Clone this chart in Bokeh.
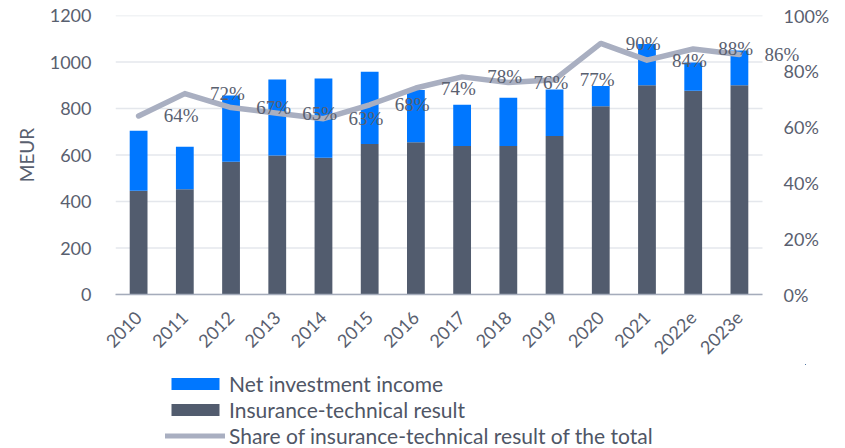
import math
from bokeh.plotting import figure
from bokeh.layouts import column
from bokeh.models import (Range1d, LinearAxis, ColumnDataSource, Legend, LegendItem,
                          LabelSet, FixedTicker, NumeralTickFormatter)
from bokeh.embed import file_html
from bokeh.resources import INLINE

years = ["2010", "2011", "2012", "2013", "2014", "2015", "2016", "2017",
         "2018", "2019", "2020", "2021", "2022e", "2023e"]
insurance_technical = [446, 453, 571, 598, 588, 647, 655, 639, 639, 682, 810, 900, 876, 900]
net_investment = [258, 182, 285, 327, 341, 311, 225, 177, 207, 200, 87, 177, 122, 149]
share_pct = [64, 72, 67, 65, 63, 68, 74, 78, 76, 77, 90, 84, 88, 86]
left_ticks = [0, 200, 400, 600, 800, 1000, 1200]
right_ticks = [0, 0.2, 0.4, 0.6, 0.8, 1.0]

FONT = "Lato"
TXT = "#59606F"
BLUE = "#0077FF"
DARK = "#525C6E"
LINEC = "#A9AFC1"

idx = list(range(len(years)))
src = ColumnDataSource(dict(
    x=idx,
    year=years,
    tech=insurance_technical,
    inv=net_investment,
    top=[a + b for a, b in zip(insurance_technical, net_investment)],
    share=[v / 100 for v in share_pct],
    lab=[f"{v}%" for v in share_pct],
))

x_lo, x_hi = -0.5, len(years) - 0.5
p = figure(x_range=Range1d(x_lo, x_hi + 0.93), y_range=Range1d(0, 1200), width=845, height=364,
           output_backend="svg", toolbar_location=None,
           min_border_left=115, min_border_right=40, min_border_top=15, min_border_bottom=70)
p.outline_line_color = None
p.background_fill_color = "white"
p.border_fill_color = "white"
p.xgrid.grid_line_color = None
p.ygrid.grid_line_color = None

# horizontal grid lines spanning only the category area
gsrc = ColumnDataSource(dict(y=left_ticks, x0=[x_lo] * len(left_ticks), x1=[x_hi] * len(left_ticks)))
p.segment(x0="x0", x1="x1", y0="y", y1="y", source=gsrc, line_color="#E4E7EC", line_width=1.5)

# left axis
ya = p.yaxis[0]
ya.ticker = FixedTicker(ticks=left_ticks)
ya.axis_line_color = None
ya.major_tick_line_color = None
ya.minor_tick_line_color = None
ya.major_label_standoff = 18
ya.major_label_text_font = FONT
ya.major_label_text_font_size = "18px"
ya.major_label_text_color = TXT
ya.axis_label = "MEUR"
ya.axis_label_text_font = FONT
ya.axis_label_text_font_size = "19px"
ya.axis_label_text_font_style = "normal"
ya.axis_label_text_color = TXT
ya.axis_label_standoff = 9

# x axis
xa = p.xaxis[0]
xa.ticker = FixedTicker(ticks=idx)
xa.major_label_overrides = {i: y for i, y in zip(idx, years)}
xa.bounds = (x_lo, x_hi)
xa.axis_line_color = "#A5ACBB"
xa.axis_line_width = 1.5
xa.major_tick_line_color = None
xa.minor_tick_line_color = None
xa.major_label_orientation = math.pi / 4
xa.major_label_text_font = FONT
xa.major_label_text_font_size = "18px"
xa.major_label_text_color = TXT
xa.major_label_standoff = 14

# right axis
p.extra_y_ranges = {"pct": Range1d(0, 1)}
ra = LinearAxis(y_range_name="pct", ticker=FixedTicker(ticks=right_ticks),
                formatter=NumeralTickFormatter(format="0%"))
ra.axis_line_color = None
ra.major_tick_line_color = None
ra.minor_tick_line_color = None
ra.major_label_standoff = -28
ra.major_label_text_font = FONT
ra.major_label_text_font_size = "18px"
ra.major_label_text_color = TXT
p.add_layout(ra, "right")

r_tech = p.vbar(x="x", top="tech", bottom=0, width=0.385, source=src,
                fill_color=DARK, line_color=None)
r_inv = p.vbar(x="x", top="top", bottom="tech", width=0.385, source=src,
               fill_color=BLUE, line_color=None)
r_line = p.line(x="x", y="share", source=src, y_range_name="pct",
                line_color=LINEC, line_width=5.5, line_join="round", line_cap="round")

labels = LabelSet(x="x", y="share", text="lab", source=src, y_range_name="pct",
                  x_offset=42.5, text_align="center", text_baseline="middle",
                  text_font=FONT, text_font_size="19px", text_color=TXT)
p.add_layout(labels)

# legend panel (separate figure, its glyphs lie outside its visible ranges)
q = figure(width=845, height=84, x_range=Range1d(-100, -99), y_range=Range1d(-100, -99),
           output_backend="svg", toolbar_location=None,
           x_axis_location=None, y_axis_location=None, min_border=0)
q.outline_line_color = None
q.background_fill_color = "white"
q.border_fill_color = "white"
q.grid.visible = False
l_inv = q.vbar(x="x", top="top", bottom="tech", width=0.385, source=src,
               fill_color=BLUE, line_color=None)
l_tech = q.vbar(x="x", top="tech", bottom=0, width=0.385, source=src,
                fill_color=DARK, line_color=None)
l_line = q.line(x="x", y="share", source=src, line_color=LINEC, line_width=5, line_cap="round")

legend = Legend(items=[
    LegendItem(label="Net investment income", renderers=[l_inv]),
    LegendItem(label="Insurance-technical result", renderers=[l_tech]),
    LegendItem(label="Share of insurance-technical result of the total", renderers=[l_line]),
], location=(50, 0), orientation="vertical")
legend.glyph_width = 60
legend.glyph_height = 15
legend.label_height = 26
legend.spacing = 0
legend.padding = 0
legend.margin = 0
legend.label_standoff = 4
legend.label_text_font = FONT
legend.label_text_font_size = "21px"
legend.label_text_color = "#4F5666"
legend.background_fill_alpha = 0
legend.border_line_color = None
q.add_layout(legend)

layout = column(p, q, spacing=0)
open("out.html", "w").write(file_html(layout, INLINE))
